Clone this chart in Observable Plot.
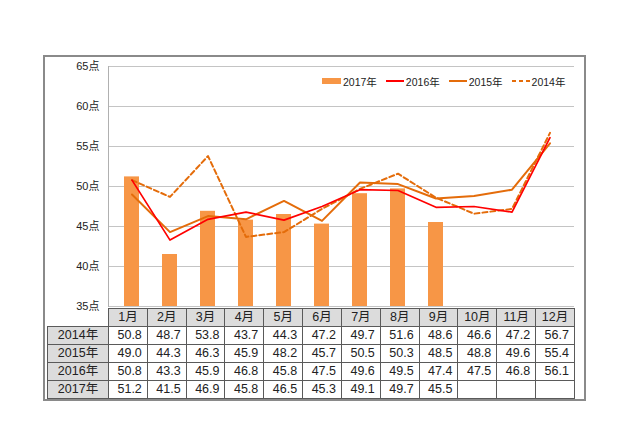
<!DOCTYPE html>
<html><head><meta charset="utf-8">
<script src="https://cdn.jsdelivr.net/npm/d3@7"></script>
<script src="https://cdn.jsdelivr.net/npm/@observablehq/plot@0.6"></script>
<style>
body{margin:0;background:#fff;font-family:"Liberation Sans",Arial,"Noto Sans CJK JP",sans-serif;color:#222;}
#wrap{position:relative;width:640px;height:426px;overflow:hidden;background:#fff}
#frame{position:absolute;left:43px;top:55px;width:543px;height:346px;border:2px solid #8a8a8a;box-sizing:border-box;}
#chart{position:absolute;left:0;top:0;}
#legend{position:absolute;left:322px;top:74px;height:14px;display:flex;align-items:center;font-size:10.5px;white-space:nowrap;}
#legend .it{display:flex;align-items:center;margin-right:9px}
#legend svg{margin-right:2px}
#tbl{position:absolute;left:47px;top:308px;border-collapse:collapse;table-layout:fixed;font-size:12.5px;}
#tbl td,#tbl th{border:1px solid #5a5a5a;height:17px;padding:0;line-height:17px;font-weight:normal;}
#tbl th{background:#dcdcdc;text-align:center;}
#tbl td{text-align:right;padding-right:5px;background:#fff}
#tbl th.corner{border:none;background:transparent}
</style></head>
<body><div id="wrap"><div id="frame"></div><div id="chart"></div><div id="legend"></div><table id="tbl"></table></div>
<script>
const months = ["1月","2月","3月","4月","5月","6月","7月","8月","9月","10月","11月","12月"];
const years = ["2014年","2015年","2016年","2017年"];
const v2014 = [50.8,48.7,53.8,43.7,44.3,47.2,49.7,51.6,48.6,46.6,47.2,56.7];
const v2015 = [49.0,44.3,46.3,45.9,48.2,45.7,50.5,50.3,48.5,48.8,49.6,55.4];
const v2016 = [50.8,43.3,45.9,46.8,45.8,47.5,49.6,49.5,47.4,47.5,46.8,56.1];
const v2017 = [51.2,41.5,46.9,45.8,46.5,45.3,49.1,49.7,45.5];
const yTicks = [35,40,45,50,55,60,65];

const colors = {bar:"#f79646", y2016:"#ff0000", y2015:"#e46c0a", y2014:"#e46c0a"};

const toRows = (vals) => vals.map((v,i) => ({month: months[i], value: v}));
const d2014 = toRows(v2014), d2015 = toRows(v2015), d2016 = toRows(v2016), d2017 = toRows(v2017);

const chart = Plot.plot({
  width: 640, height: 318,
  marginLeft: 108, marginRight: 66, marginTop: 66, marginBottom: 12,
  style: {fontFamily: '"Liberation Sans",Arial,"Noto Sans CJK JP",sans-serif', fontSize: "11px", color: "#222", background: "transparent"},
  x: {domain: months, paddingInner: 0.6, paddingOuter: 0.3, axis: null},
  y: {domain: [35,65], ticks: yTicks, tickFormat: d => d + "点", tickSize: 0, tickPadding: 9, label: null},
  marks: [
    Plot.ruleY(yTicks, {stroke: "#c4c4c4", strokeWidth: 1}),
    Plot.frame({anchor: "left", stroke: "#b0b0b0"}),
    Plot.barY(d2017, {x: "month", y: "value", fill: colors.bar, clip: true}),
    Plot.line(d2015, {x: "month", y: "value", stroke: colors.y2015, strokeWidth: 2}),
    Plot.line(d2014, {x: "month", y: "value", stroke: colors.y2014, strokeWidth: 2, strokeDasharray: "5,3"}),
    Plot.line(d2016, {x: "month", y: "value", stroke: colors.y2016, strokeWidth: 1.7})
  ]
});
document.getElementById("chart").appendChild(chart);

// legend
const legendItems = [
  {label: "2017年", kind: "rect", color: colors.bar},
  {label: "2016年", kind: "line", color: colors.y2016},
  {label: "2015年", kind: "line", color: colors.y2015},
  {label: "2014年", kind: "dash", color: colors.y2014}
];
const lg = document.getElementById("legend");
legendItems.forEach(it => {
  const d = document.createElement("div"); d.className = "it";
  let sw;
  if (it.kind === "rect") sw = `<svg width="19" height="12"><rect x="0" y="3" width="19" height="6" fill="${it.color}"/></svg>`;
  else sw = `<svg width="18" height="12"><line x1="0" x2="18" y1="6" y2="6" stroke="${it.color}" stroke-width="2" ${it.kind==="dash"?'stroke-dasharray="4,3"':''}/></svg>`;
  d.innerHTML = sw + `<span>${it.label}</span>`;
  lg.appendChild(d);
});

// table
const tbl = document.getElementById("tbl");
const cols = `<colgroup><col style="width:61px">${months.map(()=>'<col style="width:38.83px">').join("")}</colgroup>`;
let html = cols + `<tr><th class="corner"></th>${months.map(m=>`<th>${m}</th>`).join("")}</tr>`;
const series = [v2014, v2015, v2016, v2017];
years.forEach((y, k) => {
  html += `<tr><th>${y}</th>${months.map((m,i)=>`<td>${series[k][i] !== undefined ? series[k][i].toFixed(1) : ""}</td>`).join("")}</tr>`;
});
tbl.innerHTML = html;
</script></body></html>
